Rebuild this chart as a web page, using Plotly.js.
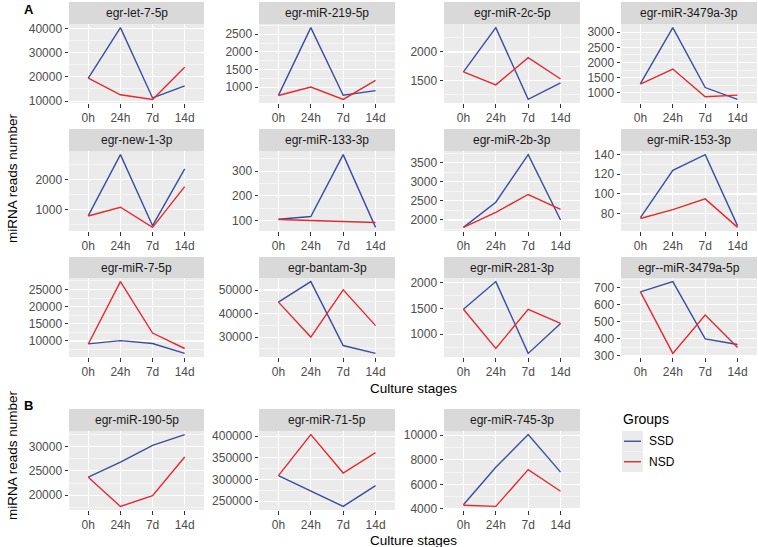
<!DOCTYPE html>
<html>
<head>
<meta charset="utf-8">
<script src="https://cdn.plot.ly/plotly-3.0.1.min.js"></script>
<style>
  html, body { margin: 0; padding: 0; background: #ffffff; }
  #chart { width: 758px; height: 547px; }
</style>
</head>
<body>
<div id="chart"></div>
<script>
// ---------------- data ----------------
const stages = ['0h', '24h', '7d', '14d'];

const mirnaNames = [
  'egr-let-7-5p', 'egr-miR-219-5p', 'egr-miR-2c-5p', 'egr-miR-3479a-3p',
  'egr-new-1-3p', 'egr-miR-133-3p', 'egr-miR-2b-3p', 'egr-miR-153-3p',
  'egr-miR-7-5p', 'egr-bantam-3p', 'egr-miR-281-3p', 'egr--miR-3479a-5p',
  'egr-miR-190-5p', 'egr-miR-71-5p', 'egr-miR-745-3p'
];

const ssdReads = [
  [19500, 40300, 11300, 16300],
  [765, 2690, 770, 900],
  [1650, 2430, 1163, 1453],
  [1300, 3150, 1174, 783],
  [800, 2833, 467, 2356],
  [105, 116, 367, 72],
  [1807, 2465, 3710, 2000],
  [76, 124, 140, 67.5],
  [9140, 10100, 9240, 6370],
  [44860, 53600, 26400, 23050],
  [1487, 2026, 627, 1210],
  [677, 737, 400, 367],
  [23700, 26800, 30200, 32430],
  [309000, 273500, 238000, 286000],
  [4350, 7390, 10050, 7000]
];

const nsdReads = [
  [19500, 12600, 10700, 24000],
  [760, 1000, 650, 1190],
  [1650, 1420, 1900, 1523],
  [1283, 1783, 870, 924],
  [790, 1080, 411, 1767],
  [104, 99, 96, 92],
  [1807, 2200, 2667, 2280],
  [75, 84, 95, 66],
  [9100, 27300, 12300, 7800],
  [44860, 30000, 50100, 34860],
  [1487, 724, 1487, 1210],
  [677, 315, 540, 350],
  [23700, 17700, 19900, 27840],
  [309000, 403800, 315000, 362000],
  [4300, 4210, 7200, 5440]
];

const yTickStep = [10000, 500, 500, 500, 1000, 100, 500, 20, 5000, 10000, 500, 100, 5000, 50000, 2000];

const groupNames = ['SSD', 'NSD'];

// ---------------- layout geometry (pixels) ----------------
const W = 758, H = 547;
const colX = [[69, 204], [259, 395], [444, 580], [621, 757]];
// [stripTop, plotTop, plotBottom]
const rowY = [[2, 24, 103], [129, 151, 231], [257, 278, 357], [409, 431, 510]];
const colors = { SSD: '#3C4DA0', NSD: '#E42A2E' };
const FONT = 'Liberation Sans, Arial, sans-serif';

function px2x(p) { return p / W; }
function px2y(p) { return 1 - p / H; }

const traces = [];
const layout = {
  width: W, height: H,
  margin: { l: 0, r: 0, t: 0, b: 0 },
  paper_bgcolor: '#ffffff',
  plot_bgcolor: '#EBEBEB',
  showlegend: false,
  font: { family: FONT, color: '#4d4d4d', size: 12 },
  shapes: [],
  annotations: []
};

mirnaNames.forEach((name, i) => {
  const row = Math.floor(i / 4);
  const col = i % 4;
  const [x0, x1] = colX[col];
  const [st, pt, pb] = rowY[row];
  const n = i + 1;
  const xa = n === 1 ? 'x' : 'x' + n;
  const ya = n === 1 ? 'y' : 'y' + n;
  const xKey = n === 1 ? 'xaxis' : 'xaxis' + n;
  const yKey = n === 1 ? 'yaxis' : 'yaxis' + n;

  const ss = ssdReads[i], ns = nsdReads[i];
  const all = ss.concat(ns);
  const mn = Math.min(...all), mx = Math.max(...all);
  const pad = (mx - mn) * 0.05;
  const step = yTickStep[i];

  traces.push({
    x: stages, y: ss, xaxis: xa, yaxis: ya, type: 'scatter', mode: 'lines',
    name: 'SSD', line: { color: colors.SSD, width: 1.4 }, hoverinfo: 'skip'
  });
  traces.push({
    x: stages, y: ns, xaxis: xa, yaxis: ya, type: 'scatter', mode: 'lines',
    name: 'NSD', line: { color: colors.NSD, width: 1.4 }, hoverinfo: 'skip'
  });

  layout[xKey] = {
    domain: [px2x(x0), px2x(x1)],
    anchor: ya,
    type: 'category',
    categoryorder: 'array',
    categoryarray: stages,
    range: [-0.6, 3.6],
    showgrid: true, gridcolor: '#ffffff', gridwidth: 1.1,
    zeroline: false, showline: false,
    ticks: 'outside', ticklen: 3.5, tickwidth: 1, tickcolor: '#333333',
    tickfont: { family: FONT, size: 12, color: '#4d4d4d' },
    fixedrange: true
  };
  layout[yKey] = {
    domain: [px2y(pb), px2y(pt)],
    anchor: xa,
    range: [mn - pad, mx + pad],
    tick0: 0, dtick: step,
    tickformat: 'd',
    showgrid: true, gridcolor: '#ffffff', gridwidth: 1.1,
    minor: { tick0: 0, dtick: step / 2, showgrid: true, gridcolor: '#ffffff', gridwidth: 0.5, ticks: '' },
    zeroline: false, showline: false,
    ticks: 'outside', ticklen: 3.5, tickwidth: 1, tickcolor: '#333333',
    tickfont: { family: FONT, size: 12, color: '#4d4d4d' },
    fixedrange: true
  };

  // facet strip
  layout.shapes.push({
    type: 'rect', xref: 'paper', yref: 'paper',
    x0: px2x(x0), x1: px2x(x1), y0: px2y(pt), y1: px2y(st),
    fillcolor: '#D9D9D9', line: { width: 0 }, layer: 'below'
  });
  layout.annotations.push({
    xref: 'paper', yref: 'paper',
    x: px2x((x0 + x1) / 2), y: px2y((st + pt) / 2),
    text: name, showarrow: false, xanchor: 'center', yanchor: 'middle',
    font: { family: FONT, size: 12, color: '#1a1a1a' }
  });
});

// panel tags and axis titles
const titleFont = { family: FONT, size: 13.5, color: '#000000' };
layout.annotations.push(
  { xref: 'paper', yref: 'paper', x: px2x(22), y: px2y(9), text: '<b>A</b>', showarrow: false,
    xanchor: 'left', yanchor: 'middle', font: { family: FONT, size: 13, color: '#000' } },
  { xref: 'paper', yref: 'paper', x: px2x(22), y: px2y(405), text: '<b>B</b>', showarrow: false,
    xanchor: 'left', yanchor: 'middle', font: { family: FONT, size: 13, color: '#000' } },
  { xref: 'paper', yref: 'paper', x: px2x(413), y: px2y(388), text: 'Culture stages', showarrow: false,
    xanchor: 'center', yanchor: 'middle', font: titleFont },
  { xref: 'paper', yref: 'paper', x: px2x(413), y: px2y(540), text: 'Culture stages', showarrow: false,
    xanchor: 'center', yanchor: 'middle', font: titleFont },
  { xref: 'paper', yref: 'paper', x: px2x(12), y: px2y(178), text: 'miRNA reads number', showarrow: false,
    textangle: -90, xanchor: 'center', yanchor: 'middle', font: titleFont },
  { xref: 'paper', yref: 'paper', x: px2x(12), y: px2y(455), text: 'miRNA reads number', showarrow: false,
    textangle: -90, xanchor: 'center', yanchor: 'middle', font: titleFont }
);

// legend (drawn as shapes + text)
layout.annotations.push({
  xref: 'paper', yref: 'paper', x: px2x(621), y: px2y(419), text: 'Groups', showarrow: false,
  xanchor: 'left', yanchor: 'middle', font: { family: FONT, size: 14, color: '#000' }
});
groupNames.forEach((g, k) => {
  const top = 431 + k * 20.5, bot = top + 20.5, mid = (top + bot) / 2;
  layout.shapes.push({
    type: 'rect', xref: 'paper', yref: 'paper',
    x0: px2x(622), x1: px2x(643), y0: px2y(bot), y1: px2y(top),
    fillcolor: '#EBEBEB', line: { width: 0 }
  });
  layout.shapes.push({
    type: 'line', xref: 'paper', yref: 'paper',
    x0: px2x(624), x1: px2x(641), y0: px2y(mid), y1: px2y(mid),
    line: { color: colors[g], width: 1.4 }
  });
  layout.annotations.push({
    xref: 'paper', yref: 'paper', x: px2x(647), y: px2y(mid), text: g, showarrow: false,
    xanchor: 'left', yanchor: 'middle', font: { family: FONT, size: 12, color: '#000' }
  });
});

Plotly.newPlot('chart', traces, layout, { staticPlot: true, displayModeBar: false });
</script>
</body>
</html>
